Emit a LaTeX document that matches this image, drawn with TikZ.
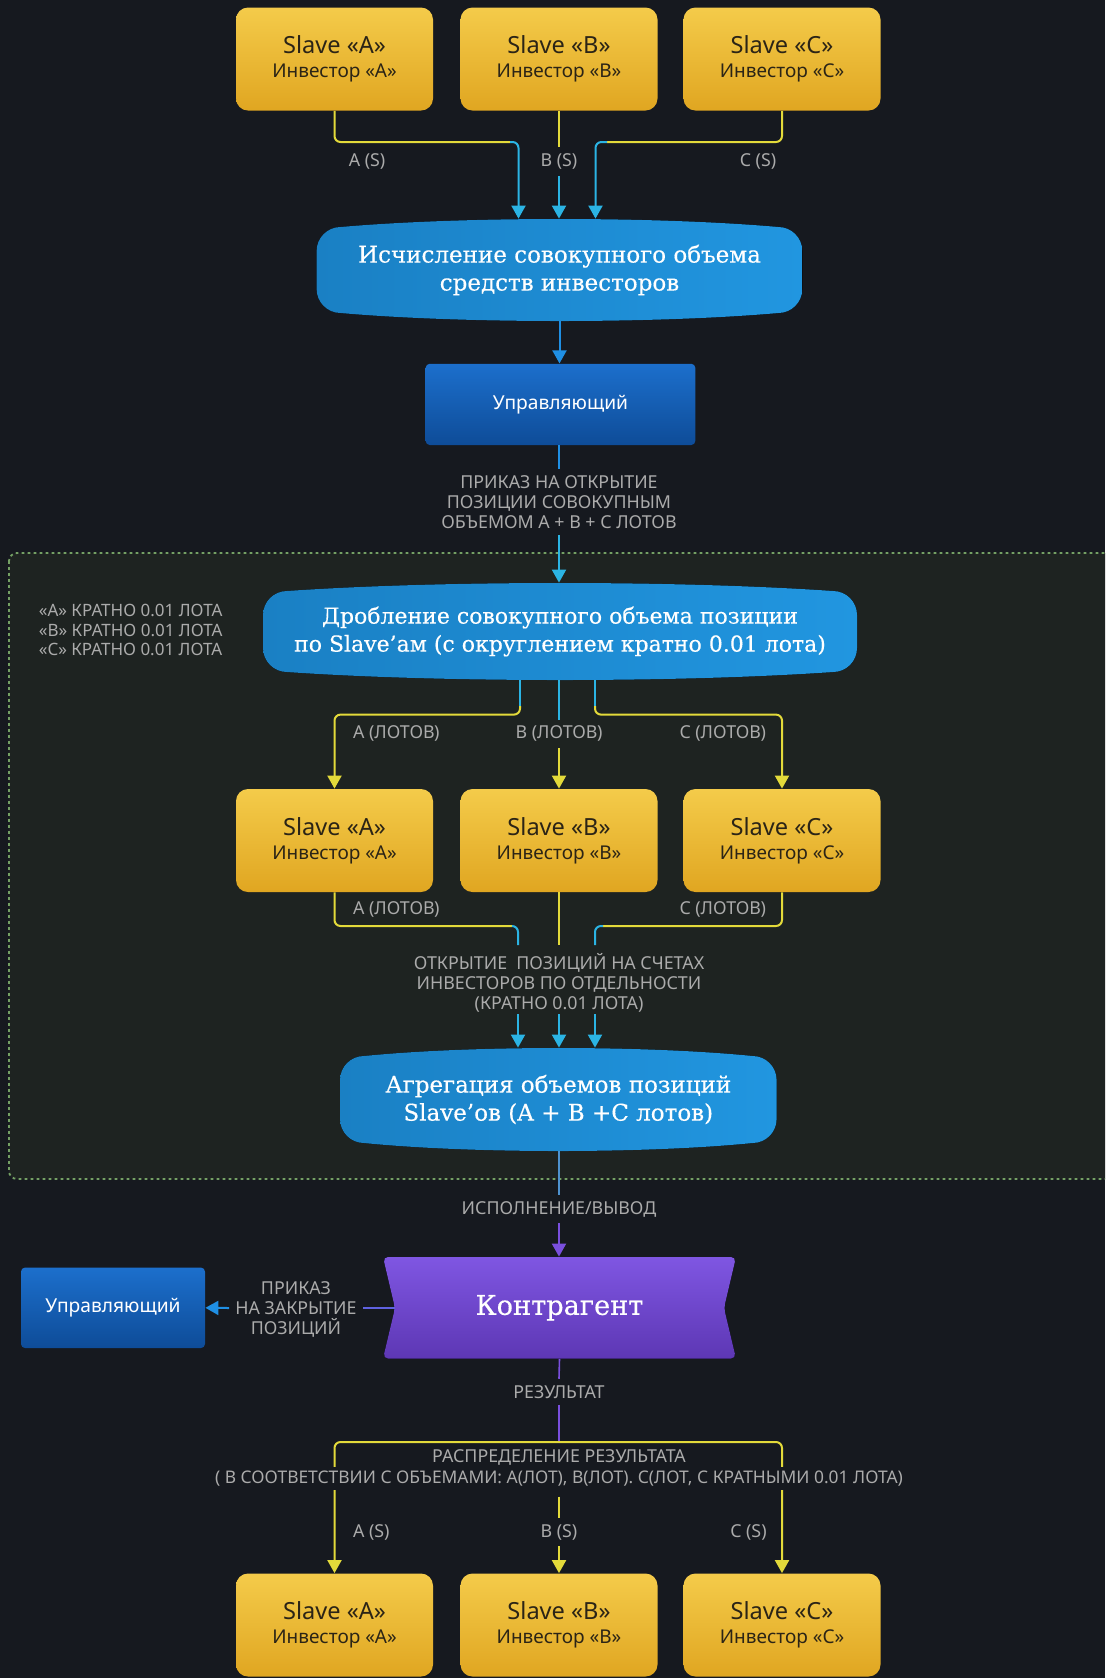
\documentclass[tikz,border=0pt]{standalone}
\usepackage{fontspec}
\setmainfont{Noto Sans}
\newfontfamily\slab{DejaVu Serif}[FakeBold=0.35]
\usetikzlibrary{arrows.meta,calc}
\definecolor{bg}{HTML}{16191F}
\definecolor{grp}{HTML}{1E2321}
\definecolor{grpdash}{HTML}{74A064}
\definecolor{goldT}{HTML}{F4CB4A}
\definecolor{goldB}{HTML}{E0A621}
\definecolor{boxtxt}{HTML}{2B2416}
\definecolor{blobL}{HTML}{1A80C4}
\definecolor{blobR}{HTML}{2196E0}
\definecolor{uT}{HTML}{1C6FCC}
\definecolor{uB}{HTML}{0E4C98}
\definecolor{purT}{HTML}{7F56E2}
\definecolor{purB}{HTML}{5D37B4}
\definecolor{ylw}{HTML}{E3DA3A}
\definecolor{cyn}{HTML}{2BB4E4}
\definecolor{lbl}{HTML}{ABABAB}
\definecolor{blu}{HTML}{1F8FE4}
\definecolor{bluthin}{HTML}{4E92CF}
\definecolor{purl}{HTML}{7A4FDE}
\newcommand\blobshape[4]{%
 \pgfmathsetmacro\bxa{#1}\pgfmathsetmacro\bya{#2}%
 \pgfmathsetmacro\bxb{#3}\pgfmathsetmacro\byb{#4}%
 \pgfmathsetmacro\bw{(#3-#1)*0.3}%
 \fill[left color=blobL, right color=blobR]
  ({\bxa},{\bya+32}) .. controls ({\bxa},{\bya+18.8}) and ({\bxa+10.8},{\bya+8}) .. ({\bxa+24},{\bya+8})
  .. controls ({\bxa+\bw},{\bya-2.67}) and ({\bxb-\bw},{\bya-2.67}) .. ({\bxb-24},{\bya+8})
  .. controls ({\bxb-10.8},{\bya+8}) and ({\bxb},{\bya+18.8}) .. ({\bxb},{\bya+32})
  -- ({\bxb},{\byb-32})
  .. controls ({\bxb},{\byb-18.8}) and ({\bxb-10.8},{\byb-8}) .. ({\bxb-24},{\byb-8})
  .. controls ({\bxb-\bw},{\byb+2.67}) and ({\bxa+\bw},{\byb+2.67}) .. ({\bxa+24},{\byb-8})
  .. controls ({\bxa+10.8},{\byb-8}) and ({\bxa},{\byb-18.8}) .. ({\bxa},{\byb-32})
  -- cycle;}
\begin{document}
\begin{tikzpicture}[x=0.5pt,y=-0.5pt,
 slavebox/.style={rectangle, rounded corners=6pt, top color=goldT, bottom color=goldB,
   minimum width=98.5pt, minimum height=51.5pt, align=center, text=boxtxt, inner sep=0pt,
   font=\fontsize{11.8}{12}\selectfont},
 blobtext/.style={rectangle, align=center, text=white, inner sep=0pt, font=\slab\fontsize{11.5}{14}\selectfont},
 mgrbox/.style={rectangle, rounded corners=2pt, top color=uT, bottom color=uB, text=white,
   font=\fontsize{9.6}{11}\selectfont},
 lab/.style={text=lbl, font=\fontsize{8.9}{9.9}\selectfont, align=center, inner sep=3pt},
 conn/.style={line width=1pt, rounded corners=3pt},
 arr/.style={-{Triangle[width=7pt,length=6.5pt]}}
]
\useasboundingbox (0,0) rectangle (1105,1678);
\clip (0,0) rectangle (1105,1678);
\fill[bg] (0,0) rectangle (1105,1678);
\draw[grpdash, fill=grp, line width=0.9pt, dash pattern=on 1.4pt off 1.6pt, rounded corners=4pt]
  (9,553) rectangle (1125,1179);

% ---------- top row ----------
\node[slavebox] (tA) at (334.5,59) {Slave «A»\\{\fontsize{9.5}{11}\selectfont Инвестор «A»}};
\node[slavebox] (tB) at (559,59) {Slave «B»\\{\fontsize{9.5}{11}\selectfont Инвестор «B»}};
\node[slavebox] (tC) at (782,59) {Slave «C»\\{\fontsize{9.5}{11}\selectfont Инвестор «C»}};
\node[lab] (lAS) at (367,161.5) {A (S)};
\node[lab] (lBS) at (559,161.5) {B (S)};
\node[lab] (lCS) at (758,161.5) {C (S)};
\coordinate (cA) at (510,142);
\coordinate (cC) at (607,142);

\blobshape{316.6}{219}{802.3}{321}
\node[blobtext, minimum width=242.8pt, minimum height=51pt] (b1) at (559.5,270)
  {Исчисление совокупного объема\\средств инвесторов};

\draw[conn, ylw] (tA.south) |- (cA);
\draw[conn, cyn, arr] (cA) -| ($(b1.north)+(-20.5pt,0)$);
\draw[conn, ylw] (tB.south) -- (lBS.north);
\draw[conn, cyn, arr] (lBS.south) -- (b1.north -| lBS.south);
\draw[conn, ylw] (tC.south) |- (cC);
\draw[conn, cyn, arr] (cC) -| ($(b1.north)+(18pt,0)$);

\node[mgrbox, minimum width=134.8pt, minimum height=40.6pt] (u1) at (560.5,404.4) {Управляющий};
\draw[conn, blu, arr] (b1.south) -- (u1.north -| b1.south);

\node[lab] (lPr) at (559,502) {ПРИКАЗ НА ОТКРЫТИЕ\\ПОЗИЦИИ СОВОКУПНЫМ\\ОБЪЕМОМ А + В + С ЛОТОВ};
\draw[conn, blu] (u1.south -| lPr.north) -- (lPr.north);

% ---------- group ----------
\node[text=lbl, font=\fontsize{8.5}{9.8}\selectfont, align=left, anchor=west, inner sep=0pt] (note) at (38.5,630)
  {«A» КРАТНО 0.01 ЛОТА\\«B» КРАТНО 0.01 ЛОТА\\«C» КРАТНО 0.01 ЛОТА};

\blobshape{263}{583}{857}{680}
\node[blobtext, minimum width=297pt, minimum height=48.5pt, font=\slab\fontsize{11}{14}\selectfont] (b2) at (560,631.5)
  {Дробление совокупного объема позиции\\по Slave’ам (с округлением кратно 0.01 лота)};
\draw[conn, cyn, arr] (lPr.south) -- (b2.north -| lPr.south);

\node[slavebox] (mA) at (334.5,840.5) {Slave «A»\\{\fontsize{9.5}{11}\selectfont Инвестор «A»}};
\node[slavebox] (mB) at (559,840.5) {Slave «B»\\{\fontsize{9.5}{11}\selectfont Инвестор «B»}};
\node[slavebox] (mC) at (782,840.5) {Slave «C»\\{\fontsize{9.5}{11}\selectfont Инвестор «C»}};

\coordinate (jA) at (520,706);
\coordinate (hA) at (334.5,714.6);
\coordinate (jC) at (595,706);
\coordinate (hC) at (782,714.6);
\node[lab, anchor=west] (lAL1) at (346.6,733.8) {A (ЛОТОВ)};
\node[lab] (lBL1) at (559,733.8) {B (ЛОТОВ)};
\node[lab, anchor=east] (lCL1) at (772.3,733.8) {C (ЛОТОВ)};

\draw[conn, cyn] (b2.south -| jA) -- (jA);
\draw[conn, ylw, arr] (jA) |- (hA) -- (mA.north);
\draw[conn, cyn] (b2.south -| lBL1.north) -- (lBL1.north);
\draw[conn, ylw, arr] (lBL1.south) -- (mB.north);
\draw[conn, cyn] (b2.south -| jC) -- (jC);
\draw[conn, ylw, arr] (jC) |- (hC) -- (mC.north);

\node[lab, anchor=west] (lAL2) at (346.6,909) {A (ЛОТОВ)};
\node[lab, anchor=east] (lCL2) at (772.3,909) {C (ЛОТОВ)};
\coordinate (kA) at (512,926);
\coordinate (eA) at (518,945);
\coordinate (kC) at (603,926);
\coordinate (eC) at (595,945);
\coordinate (eB) at (559,945);
\draw[conn, ylw] (mA.south) |- (kA);
\draw[conn, cyn] (kA) -| (eA);
\draw[conn, ylw] (mB.south) -- (eB);
\draw[conn, ylw] (mC.south) |- (kC);
\draw[conn, cyn] (kC) -| (eC);

\node[lab] (lOpen) at (559,983) {ОТКРЫТИЕ~ ПОЗИЦИЙ НА СЧЕТАХ\\ИНВЕСТОРОВ ПО ОТДЕЛЬНОСТИ\\(КРАТНО 0.01 ЛОТА)};
\coordinate (fA) at (518,1014);
\coordinate (fB) at (559,1014);
\coordinate (fC) at (595,1014);

\blobshape{340}{1048}{776.6}{1151}
\node[blobtext, minimum width=218.3pt, minimum height=51.5pt] (b3) at (558.3,1099.5)
  {Агрегация объемов позиций\\Slave’ов (A + B +C лотов)};
\draw[conn, cyn, arr] (fA) -- (b3.north -| fA);
\draw[conn, cyn, arr] (fB) -- (b3.north -| fB);
\draw[conn, cyn, arr] (fC) -- (b3.north -| fC);

% ---------- lower part ----------
\node[lab] (lIsp) at (559,1209) {ИСПОЛНЕНИЕ/ВЫВОД};
\draw[line width=0.8pt, bluthin] (b3.south -| lIsp.north) -- (lIsp.north);

\fill[top color=purT, bottom color=purB, rounded corners=2.5pt]
  (383,1257) -- (736,1257) -- (724,1308) -- (736,1358.5) -- (383,1358.5) -- (395,1308) -- cycle;
\node[rectangle, minimum width=176.5pt, minimum height=50.75pt, text=white,
  font=\slab\fontsize{13.6}{15}\selectfont] (k) at (559.5,1307.75) {Контрагент};
\coordinate (knotch) at (395,1308);
\draw[conn, purl, arr] (lIsp.south) -- (k.north -| lIsp.south);

\node[mgrbox, minimum width=92pt, minimum height=40.2pt] (u2) at (113,1307.8) {Управляющий};
\node[lab] (lZak) at (296,1309.6) {ПРИКАЗ\\НА ЗАКРЫТИЕ\\ПОЗИЦИЙ};
\draw[line width=1pt, purl!70!blu] (knotch) -- (lZak.east |- knotch);
\draw[line width=1pt, blu, arr] (lZak.west |- knotch) -- (u2.east);

\node[lab] (lRes) at (559,1391.7) {РЕЗУЛЬТАТ};
\coordinate (r0) at (559,1442);
\draw[line width=0.8pt, purl] (k.south) -- (lRes.north);
\draw[line width=0.8pt, purl] (lRes.south) -- (r0);

\node[slavebox] (bA) at (334.5,1625) {Slave «A»\\{\fontsize{9.5}{11}\selectfont Инвестор «A»}};
\node[slavebox] (bB) at (559,1625) {Slave «B»\\{\fontsize{9.5}{11}\selectfont Инвестор «B»}};
\node[slavebox] (bC) at (782,1625) {Slave «C»\\{\fontsize{9.5}{11}\selectfont Инвестор «C»}};

\draw[conn, ylw, arr] (r0) -| (bA.north);
\draw[conn, ylw, arr] (r0) -| (bC.north);

\node[lab, inner sep=1pt] (lDist1) at (559,1457) {РАСПРЕДЕЛЕНИЕ РЕЗУЛЬТАТА};
\node[lab, inner sep=2pt, fill=bg, font=\fontsize{8.7}{9.9}\selectfont] (lDist2) at (559,1478.5)
  {( В СООТВЕТСТВИИ С ОБЪЕМАМИ: А(ЛОТ), В(ЛОТ). С(ЛОТ, С КРАТНЫМИ 0.01 ЛОТА)};

\node[lab, anchor=west] (lAS2) at (346.6,1532) {A (S)};
\node[lab] (lBS2) at (559,1532) {B (S)};
\node[lab, anchor=east] (lCS2) at (773,1532) {C (S)};
\draw[conn, ylw] ($(lDist2.south)+(0,-3pt)$) -- (lBS2.north);
\draw[conn, ylw, arr] (lBS2.south) -- (bB.north);
\end{tikzpicture}
\end{document}
